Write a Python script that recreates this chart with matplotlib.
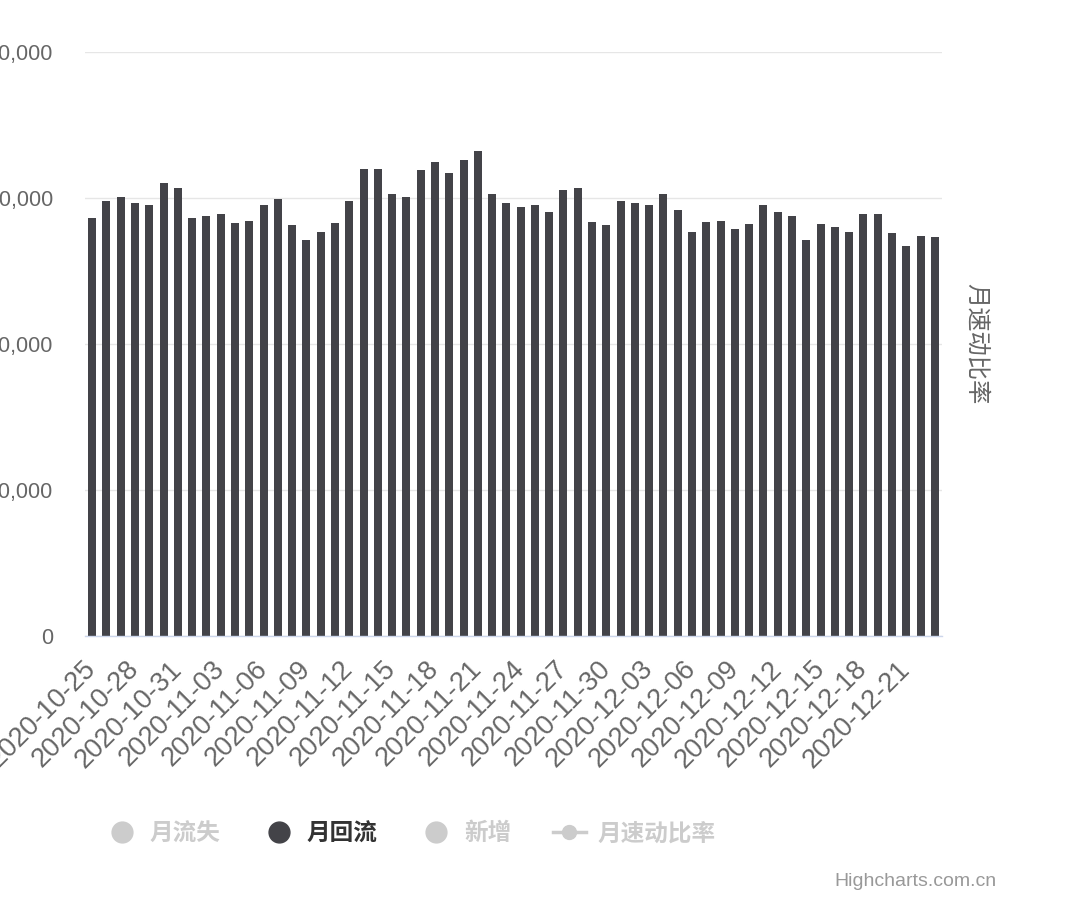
import numpy as np
import matplotlib
matplotlib.use("Agg")
import matplotlib.pyplot as plt
from matplotlib.lines import Line2D
import pandas as pd

plt.rcParams['font.family'] = ['Liberation Sans', 'Noto Sans CJK SC', 'DejaVu Sans']

# dates: 2020-10-25 .. 2020-12-23, one bar per day
dates = pd.date_range("2020-10-25", "2020-12-23", freq="D").strftime("%Y-%m-%d").tolist()

# 月回流 (only visible series)
month_return = [
    28600, 29800, 30100, 29650, 29500, 31000, 30700, 28600, 28750, 28900,
    28300, 28450, 29500, 29950, 28150, 27100, 27700, 28300, 29800, 32000,
    32000, 30250, 30100, 31900, 32500, 31700, 32600, 33200, 30250, 29650,
    29350, 29500, 29050, 30550, 30700, 28350, 28150, 29800, 29650, 29500,
    30250, 29200, 27700, 28350, 28450, 27900, 28200, 29500, 29050, 28750,
    27100, 28200, 28000, 27700, 28900, 28900, 27600, 26700, 27400, 27300,
]

yticks = [0, 10000, 20000, 30000, 40000]
series_names = ['月流失', '月回流', '新增', '月速动比率']
series_visible = [False, True, False, False]

fig = plt.figure(figsize=(10.8, 9.02), dpi=100)
ax = fig.add_axes([85/1080, 1 - 636/902, (942-85)/1080, (636-52)/902])

x = np.arange(len(dates))
ax.bar(x, month_return, width=0.56, color='#434348', zorder=3)

ax.set_xlim(-0.5, len(dates) - 0.5)
ax.set_ylim(0, 40000)
ax.set_yticks(yticks)
ax.set_yticklabels(['{:,}'.format(v) for v in yticks])
ax.tick_params(axis='y', length=0, pad=23, labelsize=15.5, labelcolor='#666666')
ax.grid(axis='y', color='#e6e6e6', linewidth=1, zorder=0)

ax.set_xticks(x[::3])
ax.set_xticklabels(dates[::3], rotation=45, ha='right', va='center',
                   rotation_mode='anchor')
ax.tick_params(axis='x', length=0, pad=21, labelsize=19.5, labelcolor='#666666')

for s in ['top', 'right', 'left']:
    ax.spines[s].set_visible(False)
ax.spines['bottom'].set_color('#ccd6eb')
ax.spines['bottom'].set_linewidth(1)
ax.spines['bottom'].set_zorder(4)

# secondary axis (no visible data), only its title
ax2 = ax.twinx()
ax2.set_yticks([])
for s in ax2.spines.values():
    s.set_visible(False)
ax2.set_ylabel('月速动比率', rotation=270, fontsize=17.5, color='#666666', labelpad=16,
               va='bottom')

# legend
handles = []
for name, vis in zip(series_names, series_visible):
    c = '#434348' if vis else '#cccccc'
    if name == '月速动比率':
        handles.append(Line2D([], [], color=c, linewidth=2.5, marker='o', markersize=10))
    else:
        handles.append(Line2D([], [], color=c, linestyle='none', marker='o', markersize=15))
leg = fig.legend(handles, series_names, ncol=4, loc='center left',
                 bbox_to_anchor=(105/1080, 1 - 834/902), bbox_transform=fig.transFigure,
                 frameon=False, borderpad=0, borderaxespad=0,
                 handlelength=1.4, handletextpad=0.5, columnspacing=1.75,
                 prop={'size': 17, 'weight': 'bold'})
for t, vis in zip(leg.get_texts(), series_visible):
    t.set_color('#333333' if vis else '#cccccc')

fig.text(997/1080, 1 - 882/902, 'Highcharts.com.cn', ha='right', va='center',
         fontsize=14, color='#999999')

fig.savefig('out.png', dpi=100, facecolor='white')
